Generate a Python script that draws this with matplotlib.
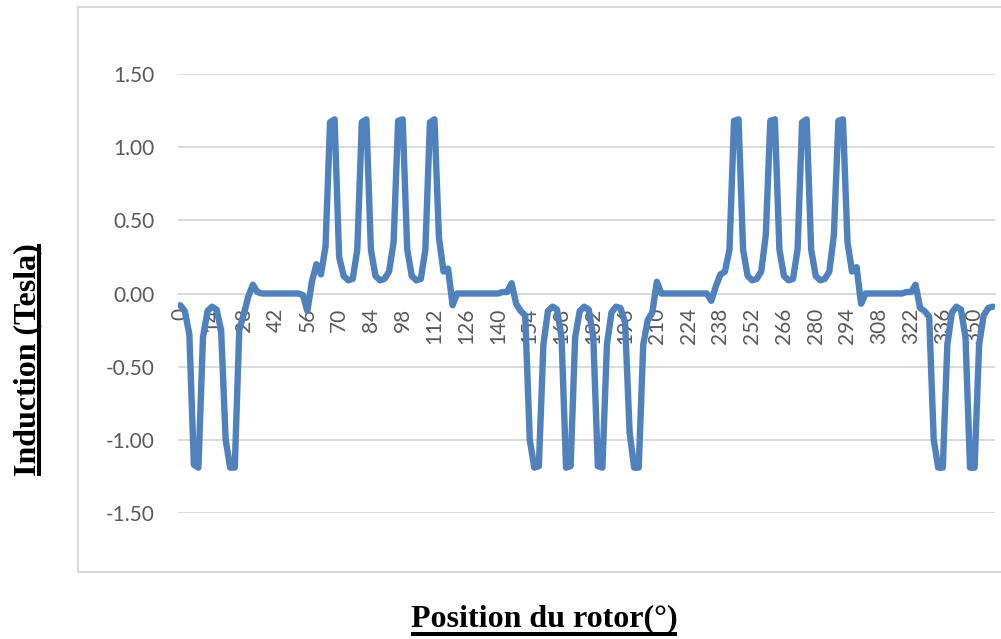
import matplotlib
matplotlib.use('Agg')
import matplotlib.pyplot as plt
from matplotlib.patches import Rectangle
from matplotlib.lines import Line2D

# rotor position (degrees), one sample every 2 degrees
angles = list(range(0, 360, 2))

# air-gap induction (Tesla)
induction = [
    -0.08, -0.12, -0.28, -1.17, -1.19, -0.30, -0.12, -0.09, -0.11, -0.25,   # 0-18
    -1.00, -1.19, -1.19, -0.25, -0.14, -0.02, 0.06, 0.01, 0.00, 0.00,       # 20-38
    0.00, 0.00, 0.00, 0.00, 0.00, 0.00, 0.00, -0.01, -0.12, 0.08,           # 40-58
    0.20, 0.13, 0.32, 1.17, 1.19, 0.25, 0.12, 0.09, 0.10, 0.30,             # 60-78
    1.17, 1.19, 0.30, 0.12, 0.09, 0.10, 0.15, 0.35, 1.18, 1.19,             # 80-98
    0.30, 0.12, 0.09, 0.10, 0.30, 1.17, 1.19, 0.38, 0.15, 0.17,             # 100-118
    -0.08, 0.00, 0.00, 0.00, 0.00, 0.00, 0.00, 0.00, 0.00, 0.00,            # 120-138
    0.00, 0.01, 0.01, 0.07, -0.07, -0.12, -0.15, -1.00, -1.19, -1.18,       # 140-158
    -0.35, -0.12, -0.09, -0.11, -0.30, -1.19, -1.18, -0.30, -0.12, -0.09,   # 160-178
    -0.11, -0.30, -1.18, -1.19, -0.35, -0.13, -0.09, -0.10, -0.20, -0.95,   # 180-198
    -1.19, -1.19, -0.35, -0.18, -0.13, 0.08, 0.00, 0.00, 0.00, 0.00,        # 200-218
    0.00, 0.00, 0.00, 0.00, 0.00, 0.00, 0.00, -0.05, 0.05, 0.13,            # 220-238
    0.15, 0.30, 1.18, 1.19, 0.30, 0.12, 0.09, 0.10, 0.15, 0.40,             # 240-258
    1.18, 1.19, 0.30, 0.12, 0.09, 0.10, 0.30, 1.17, 1.19, 0.30,             # 260-278
    0.12, 0.09, 0.10, 0.15, 0.40, 1.18, 1.19, 0.35, 0.15, 0.18,             # 280-298
    -0.07, 0.00, 0.00, 0.00, 0.00, 0.00, 0.00, 0.00, 0.00, 0.00,            # 300-318
    0.01, 0.01, 0.06, -0.10, -0.12, -0.16, -1.00, -1.19, -1.19, -0.35,      # 320-338
    -0.13, -0.09, -0.11, -0.30, -1.19, -1.19, -0.35, -0.15, -0.10, -0.09,   # 340-358
]

y_ticks = [-1.5, -1.0, -0.5, 0.0, 0.5, 1.0, 1.5]
y_tick_labels = ['-1.50', '-1.00', '-0.50', '0.00', '0.50', '1.00', '1.50']
x_ticks = angles[::7]
x_tick_labels = [str(a) for a in x_ticks]

plt.rcParams['font.family'] = ['Lato', 'DejaVu Sans']

W, H = 1001, 639
fig = plt.figure(figsize=(W / 100, H / 100), dpi=100)

# chart area frame (right edge runs off the picture)
fig.add_artist(Rectangle((78 / W, 1 - 572 / H), 1.0, 565 / H, transform=fig.transFigure,
                         fill=False, ec='#D9D9D9', lw=1.5))

ax = fig.add_axes([178 / W, 126 / H, 817 / W, 439 / H])
ax.plot(angles, induction, color='#4F81BD', lw=4.6,
        solid_joinstyle='round', solid_capstyle='round', zorder=3)

ax.set_xlim(-1, 359)
ax.set_ylim(-1.5, 1.5)
ax.set_yticks(y_ticks, y_tick_labels)
ax.set_xticks(x_ticks, x_tick_labels)
ax.grid(axis='y', color='#D9D9D9', lw=1.3)
ax.set_axisbelow(True)
for s in ['top', 'right', 'left']:
    ax.spines[s].set_visible(False)
ax.spines['bottom'].set_position(('data', 0))
ax.spines['bottom'].set_color('#D9D9D9')
ax.spines['bottom'].set_linewidth(1.3)
ax.tick_params(axis='x', length=0, pad=10, labelrotation=90, labelsize=15, labelcolor='#595959')
ax.tick_params(axis='y', length=0, pad=17, labelsize=15, labelcolor='#595959')

# axis titles, bold serif and underlined
ylab = fig.text(35 / W, 1 - 360 / H, 'Induction (Tesla)', rotation=90, rotation_mode='anchor',
                ha='center', va='baseline', family='Liberation Serif', weight='bold', fontsize=23)
xlab = fig.text(544 / W, 1 - 626 / H, 'Position du rotor(°)', ha='center', va='baseline',
                family='Liberation Serif', weight='bold', fontsize=23)

fig.canvas.draw()
r = fig.canvas.get_renderer()
bx = xlab.get_window_extent(r)
by = ylab.get_window_extent(r)
fig.add_artist(Line2D([bx.x0 / W, bx.x1 / W], [1 - 633.5 / H] * 2, transform=fig.transFigure,
                      color='black', lw=2.9, solid_capstyle='butt'))
fig.add_artist(Line2D([38.5 / W] * 2, [by.y0 / H, by.y1 / H], transform=fig.transFigure,
                      color='black', lw=2.9, solid_capstyle='butt'))

fig.savefig('out.png', dpi=100)
